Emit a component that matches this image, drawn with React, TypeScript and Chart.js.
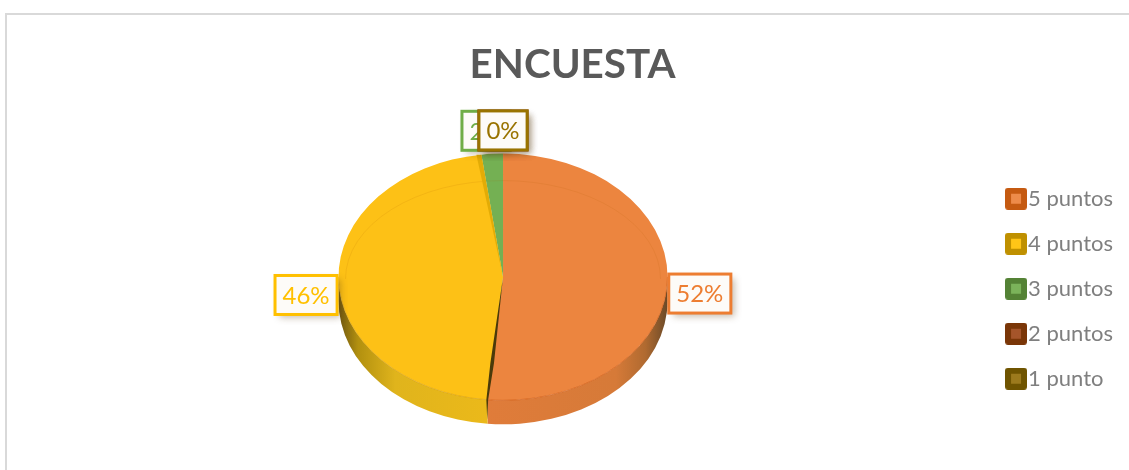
import React, { useEffect, useRef } from "react";
import { Chart, registerables } from "chart.js";

Chart.register(...registerables);

const chartTitle = "ENCUESTA";
const categories = ["5 puntos", "4 puntos", "3 puntos", "2 puntos", "1 punto"];
const percentValues = [51.5, 46.4, 2.1, 0, 0];
const sliceColors = ["#EC853F", "#FDC116", "#74B053", "#A5552A", "#9C7A1D"];
const labelColors = ["#ED7D31", "#FFC000", "#70AD47", "#843C0C", "#997300"];
const swatchOuter = ["#C55A11", "#BF9000", "#548235", "#7A3607", "#6F5400"];
const swatchInner = ["#ED8B4A", "#FFC517", "#7BB35A", "#A5552A", "#9C7A1D"];

const YSCALE = 0.75;
const DEPTH = 24;

function swatch(outer: string, inner: string) {
  const c = document.createElement("canvas");
  c.width = 22;
  c.height = 22;
  const g = c.getContext("2d")!;
  g.fillStyle = outer;
  g.beginPath();
  g.roundRect(0, 0, 22, 22, 3);
  g.fill();
  g.fillStyle = inner;
  g.fillRect(6, 6, 10, 10);
  return c;
}

const wallStops: Record<number, [number, string][]> = {
  0: [[0, "#E07C3A"], [0.72, "#D67A38"], [0.88, "#B06A30"], [1, "#6B4A28"]],
  1: [[0, "#6E5610"], [0.13, "#B2900F"], [0.38, "#E0B41C"], [1, "#EBB91A"]],
};

const legendPlacement = {
  id: "legendPlacement",
  afterLayout(chart: any) {
    const l = chart.legend;
    l.top += 54;
    l.bottom += 54;
    l.left -= 7;
    l.right -= 7;
    const t = chart.titleBlock;
    t.left += 4;
    t.right += 4;
  },
};

const pie3d = {
  id: "pie3d",
  beforeDatasetsDraw(chart: any) {
    const { ctx } = chart;
    const arcs = chart.getDatasetMeta(0).data;
    arcs.forEach((a: any, i: number) => {
      const s = Math.max(a.startAngle, 0);
      const e = Math.min(a.endAngle, Math.PI);
      if (e <= s || !wallStops[i]) return;
      const R = a.outerRadius;
      const Ry = R * YSCALE;
      const x0 = i === 0 ? a.x - 20 : a.x - R;
      const x1 = i === 0 ? a.x + R : a.x - 15;
      const grad = ctx.createLinearGradient(x0, 0, x1, 0);
      wallStops[i].forEach(([p, c]) => grad.addColorStop(p, c));
      ctx.save();
      ctx.fillStyle = grad;
      ctx.beginPath();
      ctx.ellipse(a.x, a.y, R, Ry, 0, s, e);
      ctx.ellipse(a.x, a.y + DEPTH, R, Ry, 0, e, s, true);
      ctx.closePath();
      ctx.fill();
      ctx.restore();
    });
  },
  beforeDatasetDraw(chart: any) {
    const { ctx } = chart;
    const a = chart.getDatasetMeta(0).data[0];
    ctx.save();
    ctx.translate(a.x, a.y);
    ctx.scale(1, YSCALE);
    ctx.translate(-a.x, -a.y);
  },
  afterDatasetDraw(chart: any) {
    chart.ctx.restore();
  },
  afterDatasetsDraw(chart: any) {
    const { ctx } = chart;
    const arcs = chart.getDatasetMeta(0).data;
    const a = arcs[0];
    const R = a.outerRadius;
    const Ry = R * YSCALE;
    const px = (ang: number, r = 1) => a.x + Math.cos(ang) * R * r;
    const py = (ang: number, r = 1) => a.y + Math.sin(ang) * Ry * r;

    // faint bevel on the upper face
    ctx.save();
    ctx.strokeStyle = "rgba(170,90,0,0.12)";
    ctx.lineWidth = 1;
    ctx.beginPath();
    ctx.ellipse(a.x, a.y + 2, R - 7, Ry - 25, 0, Math.PI, 2 * Math.PI);
    ctx.stroke();
    ctx.restore();

    // darker rim where the face meets the wall
    [[0, "rgba(205,90,20,0.6)"], [1, "rgba(205,150,10,0.5)"]].forEach(([i, col]: any) => {
      const s = Math.max(arcs[i].startAngle, 0);
      const e = Math.min(arcs[i].endAngle, Math.PI);
      ctx.strokeStyle = col;
      ctx.lineWidth = 1;
      ctx.beginPath();
      ctx.ellipse(a.x, a.y, R, Ry, 0, s, e);
      ctx.stroke();
    });

    // dark cut between the two big slices
    const seam = arcs[0].endAngle;
    const bx = px(seam, 1);
    const by = py(seam, 1);
    ctx.fillStyle = "#4A3A0A";
    ctx.beginPath();
    ctx.moveTo(a.x, a.y);
    ctx.lineTo(px(seam, 0.7) - 1.8, py(seam, 0.7));
    ctx.lineTo(bx - 1.2, by);
    ctx.lineTo(bx - 0.3, by + DEPTH - 4);
    ctx.lineTo(bx + 0.6, by);
    ctx.lineTo(px(seam, 0.7) + 1.8, py(seam, 0.7));
    ctx.closePath();
    ctx.fill();

    // dark-yellow side along the green slice
    const cut = arcs[1].endAngle;
    ctx.fillStyle = "#E3AC06";
    ctx.beginPath();
    ctx.moveTo(a.x, a.y);
    ctx.lineTo(px(cut, 1), py(cut, 1));
    ctx.lineTo(px(cut, 1) - 5, py(cut, 1));
    ctx.closePath();
    ctx.fill();
  },
};

const labelNudges: [number, number][] = [[0, -6], [0, 0], [-4, 0], [0, 0], [0, 0]];

const boxLabels = {
  id: "boxLabels",
  afterDraw(chart: any) {
    const { ctx } = chart;
    const arcs = chart.getDatasetMeta(0).data;
    const values = chart.data.datasets[0].data;
    arcs.forEach((a: any, i: number) => {
      const raw = (a.startAngle + a.endAngle) / 2 + Math.PI / 2;
      const text = Math.round(values[i]) + "%";
      const cx = a.x + Math.sin(raw) * 197 + labelNudges[i][0];
      const cy = a.y + 15 - Math.cos(raw) * 161.5 + labelNudges[i][1];
      ctx.save();
      ctx.font = "24px Lato, 'Open Sans', sans-serif";
      const w = ctx.measureText(text).width + 15;
      const h = 39;
      ctx.shadowColor = "rgba(90,60,20,0.35)";
      ctx.shadowBlur = 7;
      ctx.shadowOffsetX = 4;
      ctx.shadowOffsetY = 4;
      ctx.fillStyle = "#FDFBF8";
      ctx.fillRect(cx - w / 2, cy - h / 2, w, h);
      ctx.shadowColor = "transparent";
      ctx.strokeStyle = labelColors[i];
      ctx.lineWidth = 3;
      ctx.strokeRect(cx - w / 2, cy - h / 2, w, h);
      ctx.fillStyle = labelColors[i];
      ctx.textAlign = "center";
      ctx.textBaseline = "middle";
      ctx.fillText(text, cx, cy + 1);
      ctx.restore();
    });
  },
};

export default function App() {
  const ref = useRef<HTMLCanvasElement>(null);
  useEffect(() => {
    const chart = new Chart(ref.current!, {
      type: "pie",
      data: {
        labels: categories,
        datasets: [
          {
            data: percentValues,
            backgroundColor: sliceColors,
            borderWidth: 0,
          },
        ],
      },
      plugins: [legendPlacement, pie3d, boxLabels],
      options: {
        responsive: false,
        animation: false,
        events: [],
        radius: 164.5,
        layout: { padding: { left: 0, right: 9, top: 0, bottom: 15.6 } },
        plugins: {
          tooltip: { enabled: false },
          title: {
            display: true,
            text: chartTitle,
            color: "#595959",
            font: { family: "Lato, 'Open Sans', sans-serif", size: 40.4, weight: "bold" },
            padding: { top: 26, bottom: 10 },
          },
          legend: {
            position: "right",
            labels: {
              color: "#7F7F7F",
              font: { family: "Lato, 'Open Sans', sans-serif", size: 22 },
              usePointStyle: true,
              pointStyleWidth: 2,
              padding: 23,
              generateLabels() {
                return categories.map((text, i) => ({
                  text,
                  index: i,
                  fillStyle: swatchOuter[i],
                  strokeStyle: swatchOuter[i],
                  lineWidth: 0,
                  fontColor: "#7F7F7F",
                  pointStyle: swatch(swatchOuter[i], swatchInner[i]),
                  hidden: false,
                }));
              },
            },
          },
        },
      } as any,
    });
    return () => chart.destroy();
  }, []);
  return (
    <div style={{ position: "fixed", left: 0, top: 0, width: 1129, height: 470, overflow: "hidden", background: "#fff" }}>
      <div
        style={{
          position: "absolute",
          left: 5,
          top: 13,
          width: 1200,
          height: 600,
          borderLeft: "2px solid #D9D9D9",
          borderTop: "2px solid #D9D9D9",
        }}
      />
      <canvas ref={ref} width={1132} height={455} style={{ position: "absolute", left: 7, top: 15 }} />
    </div>
  );
}
